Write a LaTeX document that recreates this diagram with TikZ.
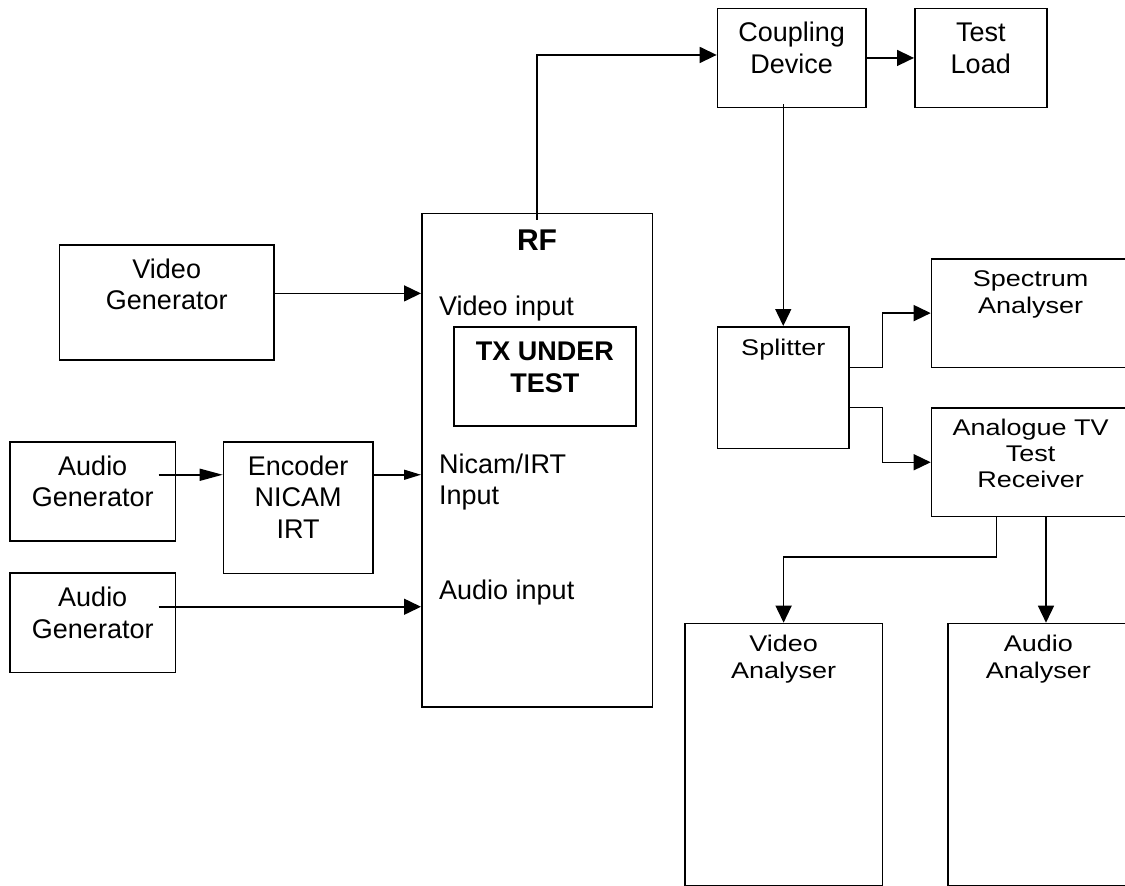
\documentclass[tikz,border=0pt]{standalone}
\usepackage{fontspec}
\setmainfont{Liberation Sans}
\usepackage{graphicx}
\usetikzlibrary{arrows.meta,calc}
\newcommand{\lines}[1]{\begin{tabular}[t]{@{}c@{}}#1\end{tabular}}
\newcommand{\lleft}[1]{\begin{tabular}[t]{@{}l@{}}#1\end{tabular}}
\newcommand{\sqz}[1]{\scalebox{1}[0.84]{#1}}
\begin{document}
\begin{tikzpicture}[x=1pt,y=-1pt,
  box/.style={draw, line width=1.5pt, inner sep=0pt, anchor=north west},
  lab/.style={inner sep=0pt, anchor=base, font=\fontsize{27}{31.5}\selectfont},
  lableft/.style={inner sep=0pt, anchor=base west, font=\fontsize{27}{30.7}\selectfont},
  arr/.style={line width=1.5pt, -{Triangle[length=17pt,width=16pt]}},
  arrlong/.style={line width=1.5pt, -{Triangle[length=23pt,width=12pt]}},
  arrthin/.style={line width=1.5pt, -{Triangle[length=17pt,width=10pt]}}]
\useasboundingbox (0,0) rectangle (1125,886);
\clip (0,0) rectangle (1125,886);
% boxes
\node[box, minimum width=214.6pt, minimum height=115.3pt] (vg) at (58.7,244) {};
\node[box, minimum width=165.4pt, minimum height=99pt] (ag1) at (9.3,441) {};
\node[box, minimum width=149.3pt, minimum height=131.7pt] (enc) at (222.7,441) {};
\node[box, minimum width=165.4pt, minimum height=99.4pt] (ag2) at (9.3,572.3) {};
\node[box, minimum width=230.6pt, minimum height=493.3pt] (rf) at (421,212.7) {};
\node[box, minimum width=181.7pt, minimum height=99pt] (tx) at (453.3,326) {};
\node[box, minimum width=148.6pt, minimum height=99pt] (cd) at (716.7,7.7) {};
\node[box, minimum width=132pt, minimum height=99pt] (tl) at (914,7.7) {};
\node[box, minimum width=131.6pt, minimum height=121.7pt] (sp) at (716.7,326) {};
\node[box, minimum width=198.3pt, minimum height=108.7pt] (sa) at (930.7,258) {};
\node[box, minimum width=198.3pt, minimum height=108.4pt] (atv) at (930.7,407.3) {};
\node[box, minimum width=197.7pt, minimum height=262.3pt] (va) at (684,622.7) {};
\node[box, minimum width=180.7pt, minimum height=262.3pt] (aa) at (947.3,622.7) {};
% texts
\node[lab] (vgt) at ($(vg.north)+(0,34.3)$) {\lines{Video\\Generator}};
\node[lab] (ag1t) at ($(ag1.north)+(0,34)$) {\lines{Audio\\Generator}};
\node[lab] (enct) at ($(enc.north)+(0,34)$) {\lines{Encoder\\NICAM\\IRT}};
\node[lab] (ag2t) at ($(ag2.north)+(0,34.4)$) {\lines{Audio\\Generator}};
\node[lab] (cdt) at ($(cd.north)+(0,34)$) {\lines{Coupling\\Device}};
\node[lab] (tlt) at ($(tl.north)+(0,34)$) {\lines{Test\\Load}};
\node[lab] (spt) at ($(sp.north)+(0,29)$) {\sqz{\lines{Splitter}}};
\node[lab] (sat) at ($(sa.north)+(0,28.7)$) {\sqz{\lines{Spectrum\\Analyser}}};
\node[lab] (atvt) at ($(atv.north)+(0,27.7)$) {\sqz{\lines{Analogue TV\\Test\\Receiver}}};
\node[lab] (vat) at ($(va.north)+(0,29)$) {\sqz{\lines{Video\\Analyser}}};
\node[lab] (aat) at ($(aa.north)+(0,29)$) {\sqz{\lines{Audio\\Analyser}}};
\node[lab, font=\bfseries\fontsize{30}{36}\selectfont] (rft) at ($(rf.north)+(0,37.3)$) {RF};
\node[lab, font=\bfseries\fontsize{27}{32.7}\selectfont] (txt) at ($(tx.north)+(0,34)$) {\lines{TX UNDER\\TEST}};
\node[lableft] (vin) at ($(rf.north west)+(18,102.3)$) {Video input};
\node[lableft] (nin) at ($(rf.north west)+(18,260.6)$) {\lleft{Nicam/IRT\\Input}};
\node[lableft] (ain) at ($(rf.north west)+(18,386.6)$) {Audio input};
% connectors
\coordinate (rfo) at ($(rf.north)+(0,7)$);
\draw[arr] (rfo) |- ($(cd.west)+(0,-3)$);
\draw[arr] (cd.east) -- (tl.west);
\coordinate (cdo) at ($(sp.north |- cd.south)+(0,-4)$);
\draw[arr] (cdo) -- (sp.north);
\coordinate (vgo) at ($(vg.east)+(0,-9)$);
\draw[arr] (vgo) -- (vgo -| rf.west);
\coordinate (ag1o) at ($(ag1.east)+(-17.7,-16.5)$);
\draw[arrlong] (ag1o) -- (ag1o -| enc.west);
\draw[arrthin] (ag1o -| enc.east) -- (ag1o -| rf.west);
\coordinate (ag2o) at ($(ag2.east)+(-17.7,-16)$);
\draw[arr] (ag2o) -- (ag2o -| rf.west);
\coordinate (spo1) at ($(sp.east)+(0,-20.2)$);
\draw[arr] (spo1) -- ++(32.7,0) |- (sa.west);
\coordinate (spo2) at ($(sp.east)+(0,19.85)$);
\draw[arr] (spo2) -- ++(32.7,0) |- (atv.west);
\coordinate (atvo1) at ($(atv.south west)+(66,0)$);
\draw[arr] (atvo1) -- ++(0,39.6) -| (va.north);
\coordinate (atvo2) at ($(atv.south west)+(115.3,0)$);
\draw[arr] (atvo2) -- (atvo2 |- aa.north);
\end{tikzpicture}
\end{document}
